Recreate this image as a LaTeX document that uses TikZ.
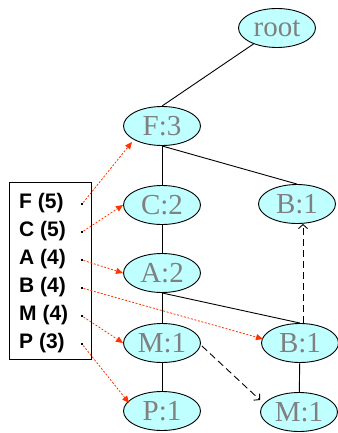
\documentclass[tikz,border=0pt]{standalone}
\usepackage{fontspec}
\setmainfont{Liberation Serif}
\newfontfamily\labfont{Liberation Sans}
\usetikzlibrary{shapes.geometric,arrows.meta}
\definecolor{nodefill}{HTML}{BFFFFF}
\definecolor{nodetext}{HTML}{808080}
\definecolor{linkred}{HTML}{FF3300}
\begin{document}
\begin{tikzpicture}[x=1pt,y=-1pt,
  treenode/.style={ellipse,draw=black,line width=0.9pt,fill=nodefill,
    minimum width=77pt,minimum height=39pt,inner sep=0pt,
    text=nodetext,font=\fontsize{29}{29}\selectfont},
  edge/.style={line width=0.9pt},
  itemlabel/.style={anchor=west,inner sep=0pt,font=\labfont\bfseries\fontsize{21}{21}\selectfont},
  itemdot/.style={rectangle,fill=black,inner sep=0pt,minimum size=2.6pt},
  headerlink/.style={draw=linkred,line width=0.8pt,dash pattern=on 2pt off 1.6pt,
    -{Triangle[length=7pt,width=6pt]},linkred},
  nodelink/.style={line width=0.9pt,dash pattern=on 7pt off 4pt,
    -{Straight Barb[length=4pt,width=9pt]}}]
\useasboundingbox (0,0) rectangle (337,433);

% tree nodes
\node[treenode] (root) at (277,28) {root};
\node[treenode] (f3) at (162,126) {F:3};
\node[treenode] (c2) at (162,205) {C:2};
\node[treenode] (b1a) at (297,204) {B:1};
\node[treenode] (a2) at (162,273) {A:2};
\node[treenode] (m1a) at (162,343) {M:1};
\node[treenode] (b1b) at (300,343) {B:1};
\node[treenode] (p1) at (162,411) {P:1};
\node[treenode] (m1b) at (299,412) {M:1};

% tree edges
\draw[edge] (root) -- (f3.north);
\draw[edge] (f3) -- (c2);
\draw[edge] (f3.south) -- (b1a.north);
\draw[edge] (c2) -- (a2);
\draw[edge] (a2) -- (m1a);
\draw[edge] (a2.south) -- (b1b.north);
\draw[edge] (m1a) -- (p1);
\draw[edge] (b1b) -- (m1b);

% node-links
\draw[nodelink] ([xshift=3pt]b1b.north) -- ([xshift=6pt]b1a.south);
\draw[nodelink] (m1a.east) ++(1pt,-3pt) coordinate (mstart) (mstart) -- (260,400) coordinate (mend);

% header table
\node[draw=black,line width=0.9pt,inner sep=0pt,minimum width=82pt,minimum height=177pt]
  (table) at (50,270.5) {};
\foreach \name/\txt/\y in {F/F (5)/203,C/C (5)/231,A/A (4)/259,B/B (4)/287,M/M (4)/315,P/P (3)/343}{
  \node[itemlabel] (lab\name) at (19,\y) {\txt};
  \node[itemdot] (dot\name) at (82,\y+1) {};
}

% header links
\draw[headerlink] (dotF) -- (132,142);
\draw[headerlink] (dotC) -- (c2.west);
\draw[headerlink] (dotA) -- (a2.west);
\draw[headerlink] (dotB) -- (263,339);
\draw[headerlink] (dotM) -- (m1a.west);
\draw[headerlink] (dotP) -- (129,403);
\end{tikzpicture}
\end{document}
